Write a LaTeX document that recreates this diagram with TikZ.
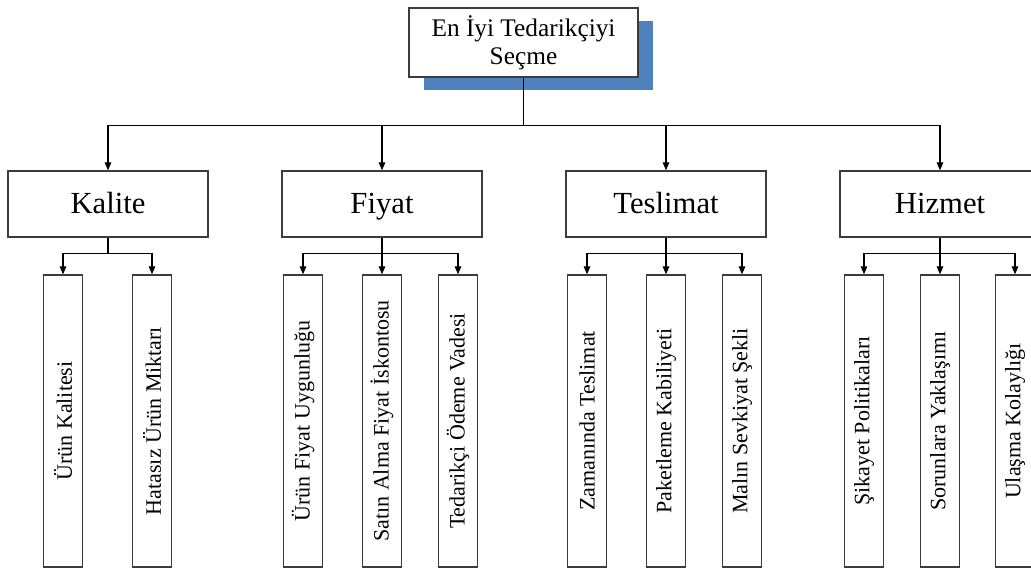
\documentclass[tikz,border=0pt]{standalone}
\usepackage{fontspec}
\setmainfont{Liberation Serif}
\usepackage{tikz}
\usetikzlibrary{arrows.meta,shadows}
\definecolor{shadowblue}{RGB}{79,129,189}
\definecolor{boxgray}{RGB}{60,60,60}
\newcommand{\vtxt}[1]{\rotatebox{90}{#1}}

\begin{document}
\begin{tikzpicture}[x=0.75pt, y=-0.75pt,
  mainbox/.style={draw=boxgray, line width=1.1pt, fill=white, minimum width=171.75pt,
    minimum height=51.75pt, inner sep=0pt, align=center, font=\fontsize{19}{21}\selectfont},
  catbox/.style={draw=boxgray, line width=1.1pt, fill=white, minimum width=150pt,
    minimum height=49.5pt, inner sep=0pt, text height=15pt, text depth=1pt,
    font=\fontsize{23}{26}\selectfont},
  subbox/.style={draw=boxgray, line width=1.1pt, fill=white, minimum width=29pt,
    minimum height=219pt, inner sep=0pt, font=\fontsize{16.5}{18}\selectfont},
  link/.style={line width=0.8pt},
  arr/.style={link, -{Triangle[length=6pt,width=5pt]}}]

\useasboundingbox (0,0) rectangle (1031,569);

% goal
\node[mainbox, drop shadow={shadow xshift=11.25pt, shadow yshift=-9.75pt,
  fill=shadowblue, opacity=1}] (top) at (523.5,42.5) {En İyi Tedarikçiyi\\Seçme};

% criteria
\node[catbox] (kalite)   at (108,204) {Kalite};
\node[catbox] (fiyat)    at (382,204) {Fiyat};
\node[catbox] (teslimat) at (666,204) {Teslimat};
\node[catbox] (hizmet)   at (940,204) {Hizmet};

% sub-criteria
\node[subbox] (urunkal)  at (63,421)   {\vtxt{Ürün Kalitesi}};
\node[subbox] (hatasiz)  at (152,421)  {\vtxt{Hatasız Ürün Miktarı}};
\node[subbox] (uygun)    at (303,421)  {\vtxt{Ürün Fiyat Uygunluğu}};
\node[subbox] (iskonto)  at (382,421)  {\vtxt{Satın Alma Fiyat İskontosu}};
\node[subbox] (vade)     at (458,421)  {\vtxt{Tedarikçi Ödeme Vadesi}};
\node[subbox] (zaman)    at (587,421)  {\vtxt{Zamanında Teslimat}};
\node[subbox] (paket)    at (666,421)  {\vtxt{Paketleme Kabiliyeti}};
\node[subbox] (sevk)     at (742,421)  {\vtxt{Malın Sevkiyat Şekli}};
\node[subbox] (sikayet)  at (864,421)  {\vtxt{Şikayet Politikaları}};
\node[subbox] (sorun)    at (940,421)  {\vtxt{Sorunlara Yaklaşımı}};
\node[subbox] (ulasma)   at (1015,421) {\vtxt{Ulaşma Kolaylığı}};

% forks
\coordinate (fork)    at ([yshift=-36pt]top.south);
\coordinate (kalfork) at ([yshift=-12pt]kalite.south);
\coordinate (fiyfork) at ([yshift=-12pt]fiyat.south);
\coordinate (tesfork) at ([yshift=-12pt]teslimat.south);
\coordinate (hizfork) at ([yshift=-12pt]hizmet.south);

\draw[link, line width=1.2pt] (top) -- (fork);
\foreach \c in {kalite,fiyat,teslimat,hizmet}
  \draw[arr] (fork) -| (\c.north);

\draw[link] (kalite) -- (kalfork);
\foreach \s in {urunkal,hatasiz}
  \draw[arr] (kalfork) -| (\s.north);

\draw[link] (fiyat) -- (fiyfork);
\foreach \s in {uygun,iskonto,vade}
  \draw[arr] (fiyfork) -| (\s.north);

\draw[link] (teslimat) -- (tesfork);
\foreach \s in {zaman,paket,sevk}
  \draw[arr] (tesfork) -| (\s.north);

\draw[link] (hizmet) -- (hizfork);
\foreach \s in {sikayet,sorun,ulasma}
  \draw[arr] (hizfork) -| (\s.north);
\end{tikzpicture}
\end{document}
